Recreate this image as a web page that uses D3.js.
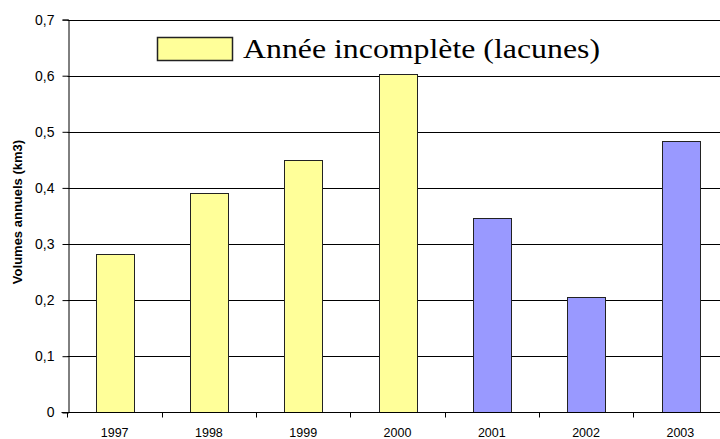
<!DOCTYPE html>
<html>
<head>
<meta charset="utf-8">
<script src="https://cdn.jsdelivr.net/npm/d3@7"></script>
<style>
  body { margin: 0; background: #fff; }
  svg { display: block; }
</style>
</head>
<body>
<svg width="720" height="439"></svg>
<script>
// annual volumes, km3
const years = ["1997", "1998", "1999", "2000", "2001", "2002", "2003"];
const volumes = [0.282, 0.391, 0.450, 0.603, 0.347, 0.205, 0.484];
// first four years have gaps in the record
const incomplete = [true, true, true, true, false, false, false];
const yTicks = [0, 0.1, 0.2, 0.3, 0.4, 0.5, 0.6, 0.7];
const legendLabel = "Année incomplète (lacunes)";
const yTitle = "Volumes annuels (km3)";

var svg = d3.select("svg");

// plot box ("top" clashes with window.top, so prefixed)
var plotLeft = 67.5, plotRight = 727.5, plotTop = 19.6, plotBottom = 412.3;

var x = d3.scaleBand()
	.domain(years)
	.range([plotLeft, plotRight])
	.paddingInner(0.6)
	.paddingOuter(0.3);

var y = d3.scaleLinear()
	.domain([0, 0.7])
	.range([plotBottom, plotTop]);

var fmt = function(d) { return d === 0 ? "0" : d3.format(".1f")(d).replace(".", ","); };

// gridlines
svg.append("g")
	.selectAll("line")
	.data(yTicks.filter(function(d) { return d > 0; }))
	.enter().append("line")
	.attr("x1", plotLeft)
	.attr("x2", 720)
	.attr("y1", function(d) { return Math.round(y(d)) + 0.5; })
	.attr("y2", function(d) { return Math.round(y(d)) + 0.5; })
	.attr("stroke", "#000")
	.attr("stroke-width", 1);

// bars
svg.append("g")
	.selectAll("rect")
	.data(years)
	.enter().append("rect")
	.attr("x", function(d) { return Math.round(x(d)) + 0.5; })
	.attr("y", function(d, i) { return Math.round(y(volumes[i])) + 0.5; })
	.attr("width", Math.round(x.bandwidth()))
	.attr("height", function(d, i) { return Math.round(plotBottom) - Math.round(y(volumes[i])); })
	.attr("fill", function(d, i) { return incomplete[i] ? "#ffff99" : "#9999ff"; })
	.attr("stroke", "#222")
	.attr("stroke-width", 1);

// y axis
var yAxis = svg.append("g")
	.attr("transform", "translate(" + (Math.round(plotLeft) + 0.5) + ",0)")
	.call(d3.axisLeft(y).tickValues(yTicks).tickFormat(fmt).tickSize(6).tickPadding(8));
yAxis.select(".domain").attr("stroke", "#000");
yAxis.selectAll("line").attr("stroke", "#000");
yAxis.selectAll("text")
	.attr("font-family", "Liberation Sans, Arial, sans-serif")
	.attr("font-size", 14)
	.attr("fill", "#000");

// x axis (ticks sit between bars)
var xAxis = svg.append("g")
	.attr("transform", "translate(0," + (Math.round(plotBottom) + 0.5) + ")");
xAxis.append("line")
	.attr("x1", plotLeft - 6).attr("x2", 720)
	.attr("stroke", "#000");
xAxis.selectAll("line.tick")
	.data(years)
	.enter().append("line")
	.attr("class", "tick")
	.attr("x1", function(d) { return Math.round(x(d) - x.step() * 0.3) + 0.5; })
	.attr("x2", function(d) { return Math.round(x(d) - x.step() * 0.3) + 0.5; })
	.attr("y1", 0).attr("y2", 5)
	.attr("stroke", "#000");
xAxis.selectAll("text")
	.data(years)
	.enter().append("text")
	.attr("x", function(d) { return x(d) + x.bandwidth() / 2; })
	.attr("y", 24)
	.attr("text-anchor", "middle")
	.attr("font-family", "Liberation Sans, Arial, sans-serif")
	.attr("font-size", 12.5)
	.text(function(d) { return d; });

// y title
svg.append("text")
	.attr("transform", "translate(22,212) rotate(-90)")
	.attr("text-anchor", "middle")
	.attr("font-family", "Liberation Sans, Arial, sans-serif")
	.attr("font-weight", "bold")
	.attr("font-size", 13)
	.text(yTitle);

// legend - the original text is stretched wider than its height suggests
var legend = svg.append("g");
legend.append("rect")
	.attr("x", 157.5).attr("y", 37.5)
	.attr("width", 75).attr("height", 23)
	.attr("fill", "#ffff99")
	.attr("stroke", "#222")
	.attr("stroke-width", 1.5);
legend.append("text")
	.attr("x", 243)
	.attr("y", 58)
	.attr("font-family", "Liberation Serif, Times New Roman, serif")
	.attr("font-size", 27.5)
	.attr("textLength", 357)
	.attr("lengthAdjust", "spacingAndGlyphs")
	.text(legendLabel);
</script>
</body>
</html>
